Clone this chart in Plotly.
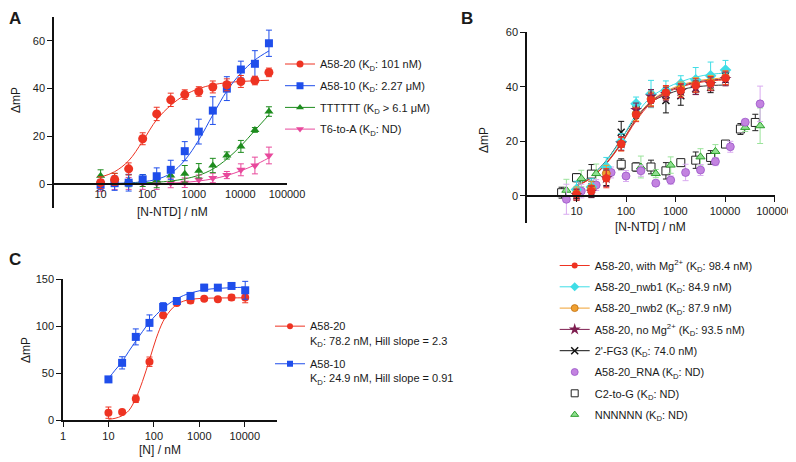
import plotly.graph_objects as go

W, H = 796, 462
OFF = 8  # the page body adds an 8 px margin around the figure
FONT = "Arial, Liberation Sans, sans-serif"


def fx(p):
    return (p - OFF) / W


def fy(p):
    return 1 - (p - OFF) / H


# ---------------- Panel A data ----------------
conc_A = [10, 20, 40, 80, 160, 320, 640, 1280, 2560, 5120, 10240, 20480, 40960]
a58_20_A = [0.6, 2.0, 6.4, 19.0, 29.4, 35.3, 37.5, 38.8, 40.7, 41.6, 43.0, 43.4, 46.8]
a58_20_A_err = [2.5, 2.5, 2.5, 2.5, 2.8, 2.8, 2.0, 2.0, 2.5, 2.5, 2.5, 1.8, 1.8]
a58_10_A = [-0.3, 0.4, 0.6, 2.0, 3.3, 6.0, 13.8, 22.0, 30.8, 40.0, 48.0, 50.4, 59.0]
a58_10_A_err = [2.0, 3.0, 3.5, 2.0, 3.5, 4.0, 4.0, 5.2, 5.8, 5.0, 3.5, 5.5, 5.5]
tttttt_A = [3.5, 2.0, 1.4, 1.5, 1.5, 3.6, 4.3, 5.6, 7.8, 12.0, 15.8, 22.7, 30.4]
tttttt_A_err = [2.5, 2.5, 2.5, 2.5, 3.0, 2.5, 3.5, 3.0, 3.0, 1.5, 2.5, 1.0, 2.0]
t6a_A = [-0.5, 0.2, 0.3, 0.3, 0.3, 0.5, 0.6, 1.8, 2.6, 3.8, 6.0, 7.8, 12.0]
t6a_A_err = [2.5, 2.5, 2.5, 2.5, 2.5, 2.0, 2.0, 2.0, 2.0, 1.5, 2.5, 3.5, 3.5]

fit_x_A = [10, 20, 40, 80, 160, 320, 640, 1280, 2560, 5120, 10240, 20480, 40960]
fit_a58_20_A = [2.9, 5.2, 9.8, 18.0, 27.0, 33.0, 37.3, 40.0, 41.6, 42.5, 43.0, 43.3, 43.5]
fit_a58_10_A = [0.2, 0.3, 0.5, 1.0, 2.0, 4.5, 10.0, 18.5, 29.0, 39.0, 46.5, 52.0, 55.8]
fit_tttttt_A = [0.1, 0.2, 0.3, 0.5, 0.8, 1.3, 2.2, 3.7, 6.3, 10.5, 16.0, 22.5, 29.0]
fit_t6a_A = [0.0, 0.0, 0.1, 0.1, 0.2, 0.4, 0.7, 1.3, 2.2, 3.6, 5.6, 8.0, 11.0]

# ---------------- Panel B data ----------------
conc_B = [10, 20, 40, 80, 160, 320, 640, 1280, 2560, 5120, 10240]
mg_B = [0.6, 1.8, 6.5, 19.0, 29.7, 35.1, 37.9, 38.6, 40.4, 41.2, 43.2]
mg_B_err = [2.0, 2.0, 3.5, 2.5, 2.5, 2.5, 2.5, 2.5, 2.5, 2.5, 2.5]
nwb1_B = [2.4, 3.3, 10.6, 19.8, 33.7, 37.3, 38.6, 41.0, 42.5, 44.0, 46.1]
nwb1_B_err = [3.0, 3.0, 3.5, 3.0, 2.5, 5.0, 3.5, 3.0, 4.5, 5.0, 3.5]
nwb2_B = [0.8, 2.7, 8.2, 19.0, 30.0, 35.5, 37.6, 39.2, 40.8, 41.6, 43.3]
nwb2_B_err = [2.5, 2.5, 3.0, 2.5, 2.5, 2.5, 2.5, 2.5, 2.5, 2.5, 2.5]
nomg_B = [0.4, 1.6, 6.5, 19.2, 31.5, 36.4, 37.3, 38.4, 39.6, 41.0, 42.8]
nomg_B_err = [2.0, 2.0, 3.0, 2.5, 2.5, 2.5, 2.5, 2.5, 2.5, 2.5, 2.5]
fg3_B = [1.1, 2.4, 7.3, 23.3, 31.5, 35.9, 34.9, 36.7, 39.2, 39.8, 44.0]
fg3_B_err = [2.0, 3.0, 3.5, 4.0, 3.0, 3.0, 4.5, 3.5, 2.0, 2.0, 2.5]

fit_x_B = [10, 20, 40, 80, 160, 320, 640, 1280, 2560, 5120, 10240, 12000]
fit_mg_B = [3.6, 6.6, 11.8, 19.0, 27.5, 34.0, 37.6, 39.9, 41.3, 42.1, 42.5, 42.6]
fit_nwb1_B = [3.9, 7.2, 12.8, 20.6, 29.8, 36.2, 39.5, 41.8, 43.5, 44.5, 45.0, 45.1]
fit_nwb2_B = [3.7, 6.9, 12.2, 19.5, 28.3, 34.8, 38.3, 40.6, 42.0, 42.8, 43.2, 43.3]
fit_nomg_B = [3.6, 6.7, 12.0, 19.3, 28.0, 34.5, 37.9, 40.2, 41.6, 42.4, 42.8, 42.9]
fit_fg3_B = [4.0, 7.4, 13.0, 20.8, 28.8, 34.3, 37.0, 38.9, 39.9, 40.4, 40.6, 40.6]

conc_rna_B = [6.25, 12.5, 25, 50, 100, 200, 400, 800, 1600, 3200, 6400, 12800, 25600, 51200]
rna_B = [-1.2, 1.8, 4.0, 8.6, 7.3, 9.2, 4.7, 5.8, 8.6, 9.5, 12.6, 18.0, 27.0, 33.7]
rna_B_err = [5.5, 2.5, 2.0, 2.0, 2.0, 2.0, 1.0, 1.5, 3.0, 2.0, 1.5, 2.0, 1.0, 6.5]

conc_c2g_B = [5, 10, 20, 80, 160, 320, 640, 1280, 2560, 5120, 10240, 20480, 40960]
c2g_B = [1.2, 6.7, 8.0, 11.6, 10.6, 10.6, 9.2, 12.2, 13.1, 14.1, 19.0, 24.5, 26.9]
c2g_B_err = [2.0, 1.5, 3.5, 2.0, 1.5, 2.5, 3.0, 1.0, 3.0, 2.5, 1.0, 2.0, 3.0]

conc_nnn_B = [6.25, 12.5, 25, 200, 400, 800, 3200, 6400, 25600, 51200]
nnn_B = [2.1, 6.4, 8.2, 10.6, 8.2, 11.3, 14.3, 16.3, 25.1, 25.7]
nnn_B_err = [4.0, 3.0, 3.5, 4.0, 1.5, 3.0, 3.0, 2.5, 1.5, 6.5]

# ---------------- Panel C data ----------------
conc_C = [10, 20, 40, 80, 160, 320, 640, 1280, 2560, 5120, 10240]
a58_20_C = [7.8, 8.5, 22.6, 62.0, 111.4, 124.5, 127.0, 129.0, 128.4, 130.2, 130.2]
a58_20_C_err = [6.0, 1.5, 4.0, 5.0, 2.0, 2.0, 3.0, 1.5, 1.5, 3.0, 5.5]
a58_10_C = [43.2, 60.8, 88.4, 103.3, 120.3, 126.6, 132.0, 140.8, 140.8, 142.6, 138.0]
a58_10_C_err = [2.5, 6.5, 8.5, 8.5, 4.5, 3.5, 2.5, 3.5, 1.5, 2.0, 9.5]

fit_x_C = [10, 14, 20, 28, 40, 56, 80, 113, 160, 226, 320, 453, 640, 1280, 2560, 5120, 10240]
fit_a58_20_C = [0.8, 1.8, 4.5, 10.0, 23.0, 41.0, 64.0, 87.0, 105.0, 116.0, 123.0, 126.5, 128.3,
                129.5, 129.8, 129.9, 130.0]
fit_a58_10_C = [44.0, 53.0, 62.0, 73.0, 84.0, 94.0, 104.0, 112.0, 119.0, 124.5, 129.0, 132.5,
                135.0, 138.5, 140.0, 140.8, 141.2]

# ---------------- tick labels ----------------
tick_vals_AB = [10, 100, 1000, 10000, 100000]
tick_text_AB = ["10", "100", "1000", "10000", "100000"]
tick_vals_C = [1, 10, 100, 1000, 10000]
tick_text_C = ["1", "10", "100", "1000", "10000"]

# ---------------- colours ----------------
RED = "#EE3322"
BLUE = "#1F4EEB"
GREEN = "#1E8C1E"
PINK = "#E8489C"
CYAN = "#3FDDE6"
ORANGE = "#F0A030"
MAROON = "#7E1E50"
PURPLE = "#C383E0"
PURPLE_EDGE = "#9A55C8"
LGREEN = "#8FE08F"

fig = go.Figure()


def data_trace(x, y, err, color, symbol, size, xa, ya, errcolor=None, edge=None, edgew=0):
    fig.add_trace(go.Scatter(
        x=x, y=y, mode="markers", xaxis=xa, yaxis=ya,
        marker=dict(color=color, symbol=symbol, size=size,
                    line=dict(color=edge or color, width=edgew)),
        error_y=dict(type="data", array=err, color=errcolor or color, thickness=1, width=3),
        showlegend=False,
    ))


def fit_trace(x, y, color, xa, ya):
    fig.add_trace(go.Scatter(
        x=x, y=y, mode="lines", xaxis=xa, yaxis=ya, line=dict(color=color, width=1, shape="spline"),
        showlegend=False, hoverinfo="skip"))


def legend_entry(name, color, symbol, size, legend, xa, ya, edge=None, edgew=0, mode="lines+markers"):
    fig.add_trace(go.Scatter(
        x=[None], y=[None], mode=mode, xaxis=xa, yaxis=ya, name=name,
        line=dict(color=color, width=1),
        marker=dict(color=color, symbol=symbol, size=size, line=dict(color=edge or color, width=edgew)),
        legend=legend, legendgroup=name, showlegend=True))


# Panel A
fit_trace(fit_x_A, fit_a58_20_A, RED, "x", "y")
fit_trace(fit_x_A, fit_a58_10_A, BLUE, "x", "y")
fit_trace(fit_x_A, fit_tttttt_A, GREEN, "x", "y")
fit_trace(fit_x_A, fit_t6a_A, PINK, "x", "y")
data_trace(conc_A, t6a_A, t6a_A_err, PINK, "triangle-down", 8, "x", "y")
data_trace(conc_A, tttttt_A, tttttt_A_err, GREEN, "triangle-up", 8, "x", "y")
data_trace(conc_A, a58_10_A, a58_10_A_err, BLUE, "square", 8, "x", "y")
data_trace(conc_A, a58_20_A, a58_20_A_err, RED, "circle", 9, "x", "y")
legend_entry("A58-20 (K<sub>D</sub>: 101 nM)", RED, "circle", 7, "legend", "x", "y")
legend_entry("A58-10 (K<sub>D</sub>: 2.27 μM)", BLUE, "square", 7, "legend", "x", "y")
legend_entry("TTTTTT (K<sub>D</sub> > 6.1 μM)", GREEN, "triangle-up", 7, "legend", "x", "y")
legend_entry("T6-to-A (K<sub>D</sub>: ND)", PINK, "triangle-down", 7, "legend", "x", "y")

# Panel B
fit_trace(fit_x_B, fit_fg3_B, "#333333", "x2", "y2")
fit_trace(fit_x_B, fit_nwb1_B, CYAN, "x2", "y2")
fit_trace(fit_x_B, fit_nwb2_B, ORANGE, "x2", "y2")
fit_trace(fit_x_B, fit_nomg_B, MAROON, "x2", "y2")
fit_trace(fit_x_B, fit_mg_B, RED, "x2", "y2")
data_trace(conc_c2g_B, c2g_B, c2g_B_err, "white", "square", 8, "x2", "y2", errcolor="#222222",
           edge="#222222", edgew=1)
data_trace(conc_nnn_B, nnn_B, nnn_B_err, LGREEN, "triangle-up", 8, "x2", "y2", errcolor="#9BE39B",
           edge="#2E9E2E", edgew=1)
data_trace(conc_rna_B, rna_B, rna_B_err, PURPLE, "circle", 8, "x2", "y2", errcolor="#D9ABF0",
           edge=PURPLE_EDGE, edgew=0.8)
data_trace(conc_B, fg3_B, fg3_B_err, "#111111", "x-thin", 7, "x2", "y2", edge="#111111", edgew=1.5)
data_trace(conc_B, nwb1_B, nwb1_B_err, CYAN, "diamond", 9, "x2", "y2")
data_trace(conc_B, nwb2_B, nwb2_B_err, ORANGE, "circle", 8, "x2", "y2", edge="#C07010", edgew=0.8)
data_trace(conc_B, nomg_B, nomg_B_err, MAROON, "star", 9, "x2", "y2")
data_trace(conc_B, mg_B, mg_B_err, RED, "circle", 8, "x2", "y2")
legend_entry("A58-20, with Mg<sup>2+</sup> (K<sub>D</sub>: 98.4 nM)", RED, "circle", 6, "legend2", "x2", "y2")
legend_entry("A58-20_nwb1 (K<sub>D</sub>: 84.9 nM)", CYAN, "diamond", 7, "legend2", "x2", "y2")
legend_entry("A58-20_nwb2 (K<sub>D</sub>: 87.9 nM)", ORANGE, "circle", 7, "legend2", "x2", "y2",
             edge="#C07010", edgew=0.8)
legend_entry("A58-20, no Mg<sup>2+</sup> (K<sub>D</sub>: 93.5 nM)", MAROON, "star", 9, "legend2", "x2", "y2")
legend_entry("2'-FG3 (K<sub>D</sub>: 74.0 nM)", "#111111", "x-thin", 7, "legend2", "x2", "y2",
             edge="#111111", edgew=1.5)
legend_entry("A58-20_RNA (K<sub>D</sub>: ND)", PURPLE, "circle", 7, "legend2", "x2", "y2",
             edge=PURPLE_EDGE, edgew=0.8, mode="markers")
legend_entry("C2-to-G (K<sub>D</sub>: ND)", "white", "square", 7, "legend2", "x2", "y2",
             edge="#222222", edgew=1, mode="markers")
legend_entry("NNNNNN (K<sub>D</sub>: ND)", LGREEN, "triangle-up", 7, "legend2", "x2", "y2",
             edge="#2E9E2E", edgew=1, mode="markers")

# Panel C
fit_trace(fit_x_C, fit_a58_20_C, RED, "x3", "y3")
fit_trace(fit_x_C, fit_a58_10_C, BLUE, "x3", "y3")
data_trace(conc_C, a58_20_C, a58_20_C_err, RED, "circle", 8, "x3", "y3")
data_trace(conc_C, a58_10_C, a58_10_C_err, BLUE, "square", 8, "x3", "y3")
legend_entry("A58-20<br>K<sub>D</sub>: 78.2 nM, Hill slope = 2.3", RED, "circle", 6, "legend3", "x3", "y3")
legend_entry("A58-10<br>K<sub>D</sub>: 24.9 nM, Hill slope = 0.91", BLUE, "square", 6, "legend3", "x3", "y3")

axis_common = dict(showgrid=False, zeroline=False, showline=True, linecolor="#111111", linewidth=1.5,
                   ticks="outside", ticklen=5, tickwidth=1.2, tickcolor="#111111",
                   tickfont=dict(family=FONT, size=11, color="#1a1a1a"))

legend_font = dict(family=FONT, size=11, color="#1a1a1a")

fig.update_layout(
    width=W, height=H, margin=dict(l=0, r=0, t=0, b=0, autoexpand=False),
    paper_bgcolor="white", plot_bgcolor="white",
    font=dict(family=FONT, size=11, color="#1a1a1a"),
    xaxis=dict(axis_common, type="log", domain=[fx(54), fx(287)], range=[0, 5],
               anchor="free", position=fy(184), tickvals=tick_vals_AB, ticktext=tick_text_AB,
               ticks=""),
    yaxis=dict(axis_common, domain=[fy(208), fy(17)], range=[-10, 70], anchor="x",
               tickvals=[0, 20, 40, 60]),
    xaxis2=dict(axis_common, type="log", domain=[fx(527), fx(774.5)], range=[0, 5],
                anchor="free", position=fy(196), tickvals=tick_vals_AB, ticktext=tick_text_AB),
    yaxis2=dict(axis_common, domain=[fy(223.3), fy(32)], range=[-10, 60], anchor="x2",
                tickvals=[0, 20, 40, 60]),
    xaxis3=dict(axis_common, type="log", domain=[fx(63), fx(277)], range=[0, 4.71],
                anchor="y3", tickvals=tick_vals_C, ticktext=tick_text_C),
    yaxis3=dict(axis_common, domain=[fy(420), fy(279)], range=[0, 150], anchor="x3",
                tickvals=[0, 50, 100, 150]),
    legend=dict(x=fx(280), y=fy(49.5), xanchor="left", yanchor="top", tracegroupgap=2.7,
                bgcolor="rgba(0,0,0,0)", font=legend_font),
    legend2=dict(x=fx(554.7), y=fy(251), xanchor="left", yanchor="top", tracegroupgap=2.3,
                 bgcolor="rgba(0,0,0,0)", font=legend_font),
    legend3=dict(x=fx(270), y=fy(312.5), xanchor="left", yanchor="top", tracegroupgap=6,
                 valign="top", bgcolor="rgba(0,0,0,0)", font=legend_font),
)

annots = [
    dict(text="<b>A</b>", x=fx(15), y=fy(18), size=17),
    dict(text="<b>B</b>", x=fx(467), y=fy(18), size=17),
    dict(text="<b>C</b>", x=fx(15), y=fy(260), size=17),
    dict(text="[N-NTD] / nM", x=fx(172), y=fy(211.5), size=12),
    dict(text="[N-NTD] / nM", x=fx(650), y=fy(226.5), size=12),
    dict(text="[N] / nM", x=fx(160), y=fy(450), size=12),
]
for a in annots:
    fig.add_annotation(text=a["text"], x=a["x"], y=a["y"], xref="paper", yref="paper",
                       showarrow=False, xanchor="center", yanchor="middle",
                       font=dict(family=FONT, size=a["size"], color="#1a1a1a"))
for (xp, yp) in [(16, 100), (484, 140), (26, 350)]:
    fig.add_annotation(text="ΔmP", x=fx(xp), y=fy(yp), xref="paper", yref="paper", showarrow=False,
                       textangle=-90, xanchor="center", yanchor="middle",
                       font=dict(family=FONT, size=12, color="#1a1a1a"))

fig.write_html("out.html")
